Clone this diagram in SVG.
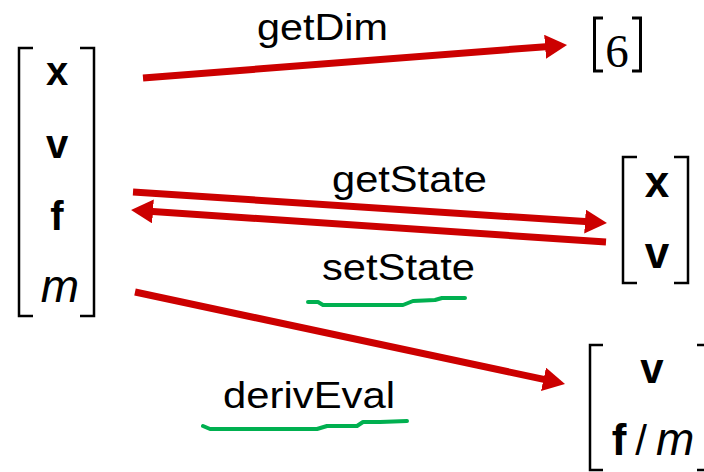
<svg xmlns="http://www.w3.org/2000/svg" width="704" height="472" viewBox="0 0 704 472">
<style>
.br{fill:none;stroke:#000;stroke-width:2.5}
.b{font-family:"Liberation Sans",Arial,sans-serif;font-weight:bold;fill:#000;text-anchor:middle}
.i{font-family:"Liberation Sans",Arial,sans-serif;font-style:italic;fill:#000}
.lbl{font-family:"Liberation Sans",Arial,sans-serif;font-size:37px;fill:#000}
.arr{stroke:#CC0000;stroke-width:7;fill:none;marker-end:url(#ah)}
.ul{stroke:#00B050;stroke-width:4;fill:none;stroke-linecap:round;stroke-linejoin:round}
</style>
<defs>
<marker id="ah" markerUnits="userSpaceOnUse" viewBox="0 0 22 24" markerWidth="22" markerHeight="24" refX="4" refY="12" orient="auto">
<path d="M0,0 L22,12 L0,24 z" fill="#CC0000"/>
</marker>
</defs>
<rect width="704" height="472" fill="#fff"/>
<g id="state">
<path class="br" d="M33,48 H19 V316 H33 M80,48 H94 V316 H80"/>
<text class="b" x="57" y="85" font-size="40">x</text>
<text class="b" x="57" y="158" font-size="40">v</text>
<text class="b" x="57" y="230" font-size="40">f</text>
<text class="i" x="60" y="302" font-size="46" text-anchor="middle">m</text>
</g>
<g id="dim">
<path d="M603,18 H594.5 V71 H603 M632,18 H640.5 V71 H632" fill="none" stroke="#000" stroke-width="3"/>
<text x="617" y="67" font-family="Liberation Serif,Times New Roman,serif" font-size="47" text-anchor="middle" fill="#000">6</text>
</g>
<g id="xv">
<path class="br" d="M637,157 H623 V283 H637 M674,157 H688 V283 H674"/>
<text class="b" x="657" y="197" font-size="44">x</text>
<text class="b" x="657" y="268" font-size="44">v</text>
</g>
<g id="deriv">
<path class="br" d="M603,345 H590 V470 H603 M697,345 H711 V470 H697"/>
<text class="b" x="652" y="383" font-size="42">v</text>
<text class="b" x="619" y="455" font-size="44">f</text>
<text x="641" y="455" font-family="Liberation Sans,Arial,sans-serif" font-size="42" text-anchor="middle" fill="#000">/</text>
<text class="i" x="656" y="455" font-size="46">m</text>
</g>
<g id="connectors">
<line class="arr" x1="143" y1="78" x2="549.1" y2="46.4"/>
<line class="arr" x1="133" y1="192" x2="589" y2="221.8"/>
<line class="arr" x1="606" y1="242" x2="149" y2="211.2"/>
<line class="arr" x1="135" y1="292" x2="547.4" y2="380.2"/>
<text class="lbl" x="257" y="40" textLength="131" lengthAdjust="spacingAndGlyphs">getDim</text>
<text class="lbl" x="332" y="192" textLength="155" lengthAdjust="spacingAndGlyphs">getState</text>
<text class="lbl" x="322" y="280" textLength="153" lengthAdjust="spacingAndGlyphs">setState</text>
<text class="lbl" x="223" y="408" textLength="172" lengthAdjust="spacingAndGlyphs">derivEval</text>
<path class="ul" d="M308,302 L318,302 L323,305 L403,305 L413,301 L435,300 L442,298 L465,298"/>
<path class="ul" d="M203,426 L210,429 L317,429 L327,426 L357,426 L363,422 L380,422 L407,421"/>
</g>
</svg>
